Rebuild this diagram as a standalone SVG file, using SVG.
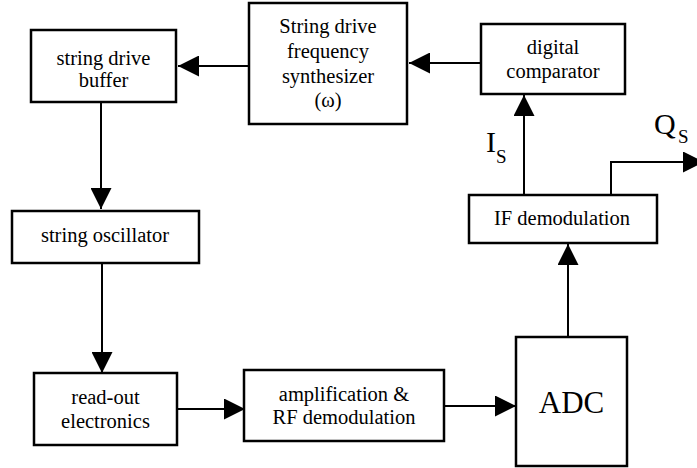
<svg xmlns="http://www.w3.org/2000/svg" width="697" height="468" viewBox="0 0 697 468">
  <style>
    .box { fill: #fff; stroke: #000; stroke-width: 2.5; }
    text { font-family: 'Liberation Serif', 'DejaVu Serif', serif; fill: #000; }
    .lbl { font-size: 20.5px; text-anchor: middle; }
    .wire { fill: none; stroke: #000; stroke-width: 2; }
  </style>
  <defs>
    <marker id="arrow" markerUnits="userSpaceOnUse" markerWidth="21" markerHeight="21" refX="21" refY="10.5" orient="auto">
      <path d="M0,0 L21,10.5 L0,21 Z" fill="#000"/>
    </marker>
  </defs>
  <rect width="697" height="468" fill="#fff"/>

  <g id="connectors">
    <line class="wire" x1="481" y1="63" x2="409" y2="63" marker-end="url(#arrow)"/>
    <line class="wire" x1="249" y1="66" x2="178" y2="66" marker-end="url(#arrow)"/>
    <line class="wire" x1="101" y1="102" x2="101" y2="209" marker-end="url(#arrow)"/>
    <line class="wire" x1="102" y1="263" x2="102" y2="373" marker-end="url(#arrow)"/>
    <line class="wire" x1="177" y1="409" x2="245" y2="409" marker-end="url(#arrow)"/>
    <line class="wire" x1="444" y1="406" x2="516" y2="406" marker-end="url(#arrow)"/>
    <line class="wire" x1="568" y1="337" x2="568" y2="244" marker-end="url(#arrow)"/>
    <line class="wire" x1="524" y1="195" x2="524" y2="95" marker-end="url(#arrow)"/>
    <polyline class="wire" points="611,195 611,162 704,162" marker-end="url(#arrow)"/>
  </g>

  <g id="buffer">
    <rect class="box" x="31" y="30" width="145" height="72"/>
    <text class="lbl" x="103.5" y="65" font-family="Liberation Serif, serif">string drive</text>
    <text class="lbl" x="103.5" y="87" font-family="Liberation Serif, serif">buffer</text>
  </g>

  <g id="synthesizer">
    <rect class="box" x="249" y="3" width="158" height="121"/>
    <text class="lbl" x="328" y="33" font-family="Liberation Serif, serif">String drive</text>
    <text class="lbl" x="328" y="58" font-family="Liberation Serif, serif">frequency</text>
    <text class="lbl" x="328" y="83" font-family="Liberation Serif, serif">synthesizer</text>
    <text class="lbl" x="328" y="107" font-family="Liberation Serif, serif">(ω)</text>
  </g>

  <g id="comparator">
    <rect class="box" x="481" y="24" width="144" height="70"/>
    <text class="lbl" x="553" y="54" font-family="Liberation Serif, serif">digital</text>
    <text class="lbl" x="553" y="78" font-family="Liberation Serif, serif">comparator</text>
  </g>

  <g id="if-demod">
    <rect class="box" x="469" y="195" width="188" height="48"/>
    <text class="lbl" x="562" y="225" font-family="Liberation Serif, serif">IF demodulation</text>
  </g>

  <g id="oscillator">
    <rect class="box" x="12" y="211" width="187" height="52"/>
    <text class="lbl" x="105" y="242" font-family="Liberation Serif, serif">string oscillator</text>
  </g>

  <g id="readout">
    <rect class="box" x="34" y="373" width="143" height="72"/>
    <text class="lbl" x="105.5" y="404" font-family="Liberation Serif, serif">read-out</text>
    <text class="lbl" x="105.5" y="428" font-family="Liberation Serif, serif">electronics</text>
  </g>

  <g id="amplification">
    <rect class="box" x="244" y="370" width="200" height="71"/>
    <text class="lbl" x="344" y="401" font-family="Liberation Serif, serif">amplification &amp;</text>
    <text class="lbl" x="344" y="424" font-family="Liberation Serif, serif">RF demodulation</text>
  </g>

  <g id="adc">
    <rect class="box" x="516" y="337" width="111" height="129"/>
    <text x="571.5" y="413" font-size="31" text-anchor="middle" font-family="Liberation Serif, serif">ADC</text>
  </g>

  <g id="signal-labels" font-family="Liberation Serif, serif">
    <text x="486" y="152" font-size="30">I</text>
    <text x="496" y="163" font-size="19">S</text>
    <text x="654" y="134" font-size="30">Q</text>
    <text x="678" y="143" font-size="19">S</text>
  </g>
</svg>
